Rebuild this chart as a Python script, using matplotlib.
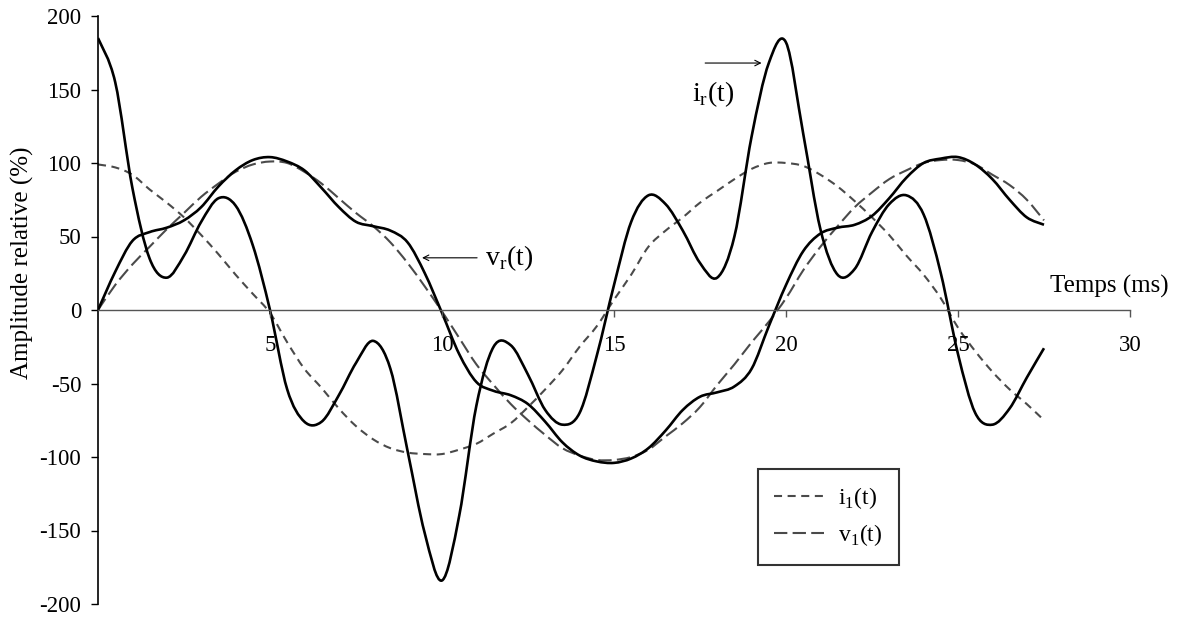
import numpy as np
import matplotlib
matplotlib.use("Agg")
import matplotlib.pyplot as plt
from matplotlib.path import Path
from matplotlib.patches import PathPatch
from matplotlib.lines import Line2D

plt.rcParams['font.family'] = ['Liberation Serif', 'DejaVu Serif']
plt.rcParams['mathtext.fontset'] = 'custom'
plt.rcParams['mathtext.rm'] = 'Liberation Serif'
plt.rcParams['lines.scale_dashes'] = False

# Sample times (ms)
temps_ms = [0, 0.5, 1, 1.5, 2, 2.5, 3, 3.5, 4, 4.5, 5, 5.5, 6, 6.5, 7, 7.5, 8, 8.5,
            9, 9.5, 10, 10.5, 11, 11.5, 12, 12.5, 13, 13.5, 14, 14.5, 15, 15.5,
            16, 16.5, 17, 17.5, 18, 18.5, 19, 19.5, 20, 20.5, 21, 21.5, 22, 22.5,
            23, 23.5, 24, 24.5, 25, 25.5, 26, 26.5, 27, 27.5]

# Distorted current i_r(t), relative amplitude (%)
i_r = [185, 155, 83, 35, 22, 37, 60, 76, 71, 44, 0, -54, -76, -76, -58, -36, -21, -40,
       -96, -152, -184, -140, -65, -25, -24, -44, -68, -78, -70, -31, 17, 60,
       78, 72, 54, 32, 22, 50, 118, 168, 182, 120, 55, 24, 28, 53, 72, 78, 65, 25,
       -30, -70, -78, -67, -46, -26]

# Distorted voltage v_r(t)
v_r = [0, 26, 47, 53, 56, 61, 70, 84, 95, 102, 104, 101, 95, 83, 70, 60, 57, 54,
       46, 25, -2, -30, -49, -55, -58, -64, -76, -90, -99, -103, -104, -101,
       -94, -82, -68, -59, -56, -52, -40, -11, 17, 40, 52, 56, 58, 64, 76, 90,
       100, 103, 104, 99, 89, 75, 63, 58]

# Fundamental current i_1(t)
i_1 = [99, 97, 92, 82, 73, 63, 51, 38, 24, 11, -2, -22, -40, -53, -67, -79, -88, -94,
       -97, -98, -98, -95, -91, -84, -77, -66, -54, -41, -25, -11, 7, 24,
       43, 54, 63, 73, 81, 89, 96, 100, 100, 98, 92, 84, 74, 63, 51, 37,
       24, 8, -12, -28, -42, -54, -64, -75]

# Fundamental voltage v_1(t)
v_1 = [0, 17, 31, 43, 55, 66, 77, 86, 94, 99, 101, 100, 94, 86, 76, 66, 57, 46,
       32, 16, -1, -19, -37, -51, -64, -75, -85, -94, -99, -102, -102, -100,
       -95, -86, -77, -66, -51, -37, -22, -8, 8, 27, 43, 57, 70, 80, 89, 95,
       100, 102, 102, 99, 92, 85, 75, 61]

x_ticks = [5, 10, 15, 20, 25, 30]
y_ticks = [-200, -150, -100, -50, 0, 50, 100, 150, 200]

GREY = '#4a4a4a'
DASH_I1 = (0, (5.8, 4.0))
DASH_V1 = (0, (9.6, 3.8))


def smooth_path(x, y):
    """Smoothed polyline through the samples (Catmull-Rom as cubic Beziers)."""
    x = np.asarray(x, float)
    y = np.asarray(y, float)
    px = np.concatenate([[x[0]], x, [x[-1]]])
    py = np.concatenate([[y[0]], y, [y[-1]]])
    verts = [(x[0], y[0])]
    codes = [Path.MOVETO]
    for i in range(1, len(px) - 2):
        c1 = (px[i] + (px[i + 1] - px[i - 1]) / 6, py[i] + (py[i + 1] - py[i - 1]) / 6)
        c2 = (px[i + 1] - (px[i + 2] - px[i]) / 6, py[i + 1] - (py[i + 2] - py[i]) / 6)
        verts += [c1, c2, (px[i + 1], py[i + 1])]
        codes += [Path.CURVE4] * 3
    return Path(verts, codes)


fig = plt.figure(figsize=(11.83, 6.17), dpi=100)
ax = fig.add_axes([98 / 1183, 13 / 617, 1032 / 1183, 588 / 617])
ax.set_xlim(0, 30)
ax.set_ylim(-200, 200)

for series, style, color, lw in [(i_1, DASH_I1, GREY, 1.5),
                                 (v_1, DASH_V1, GREY, 1.5),
                                 (v_r, '-', 'black', 1.9),
                                 (i_r, '-', 'black', 1.9)]:
    ax.add_patch(PathPatch(smooth_path(temps_ms, series), fill=False,
                           edgecolor=color, linewidth=lw, linestyle=style,
                           capstyle='butt', joinstyle='round'))

# Axes: y axis at left, time axis through zero
for side in ('top', 'right'):
    ax.spines[side].set_visible(False)
ax.spines['bottom'].set_position(('data', 0))
ax.spines['bottom'].set_color('#555555')
ax.spines['bottom'].set_linewidth(1.0)
ax.spines['left'].set_color('black')
ax.spines['left'].set_linewidth(1.2)

ax.set_xticks(x_ticks)
ax.set_xticklabels([str(v) for v in x_ticks])
ax.set_yticks(y_ticks)
ax.set_yticklabels([str(v) for v in y_ticks])
ax.tick_params(axis='x', direction='out', length=5, width=1, color='#555555',
               labelsize=16.5, pad=13)
ax.tick_params(axis='y', direction='out', length=5, width=1, color='black',
               labelsize=16.5, pad=7)

ax.set_ylabel('Amplitude relative (%)', fontsize=18)
ax.yaxis.set_label_coords(-0.062, 0.58)

ax.text(27.67, 16, 'Temps (ms)', fontsize=18, ha='left', va='center')

# Curve labels with arrows
ax.annotate('', xy=(9.42, 35.5), xytext=(11.02, 35.5),
            arrowprops=dict(arrowstyle='->', color='black', lw=0.8,
                            shrinkA=0, shrinkB=0))
ax.text(11.25, 35.5, r'v$_\mathregular{r}$(t)', fontsize=20, ha='left', va='center')

ax.annotate('', xy=(19.29, 168), xytext=(17.65, 168),
            arrowprops=dict(arrowstyle='->', color='black', lw=0.8,
                            shrinkA=0, shrinkB=0))
ax.text(17.27, 147, r'i$_\mathregular{r}$(t)', fontsize=20, ha='left', va='center')

handles = [Line2D([], [], color=GREY, lw=1.5, linestyle=DASH_I1),
           Line2D([], [], color=GREY, lw=1.5, linestyle=DASH_V1)]
leg = ax.legend(handles, [r'i$_\mathregular{1}$(t)', r'v$_\mathregular{1}$(t)'],
                loc='upper left', bbox_to_anchor=(0.6395, 0.2296),
                frameon=True, fancybox=False, edgecolor='black', fontsize=17,
                handlelength=2.1, handletextpad=0.6, borderpad=0.7,
                labelspacing=0.45, borderaxespad=0)
leg.get_frame().set_linewidth(1.5)

fig.savefig('out.png', dpi=100, facecolor='white')
